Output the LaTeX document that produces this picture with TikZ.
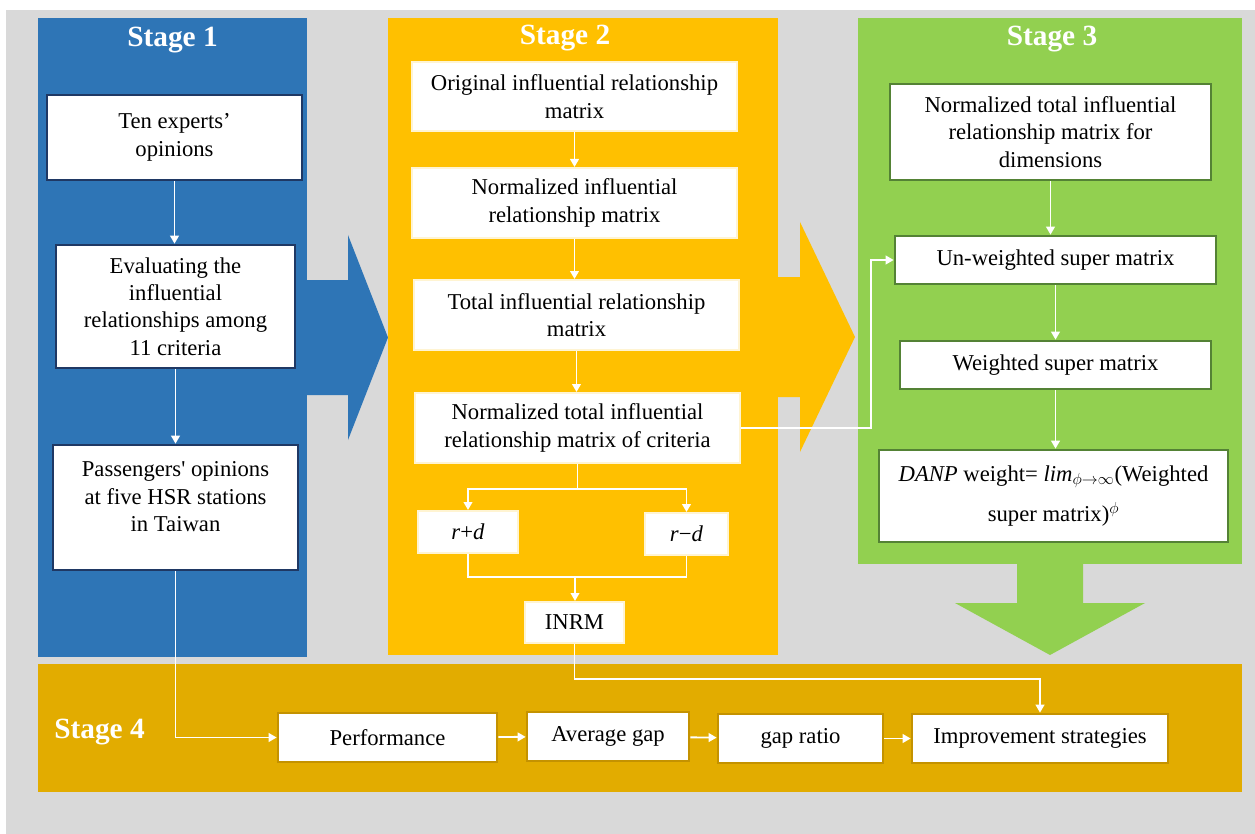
\documentclass[tikz,border=0pt]{standalone}
\usepackage{fontspec}
\setmainfont{Liberation Serif}
\usetikzlibrary{arrows.meta,calc}
\definecolor{bgc}{HTML}{D9D9D9}
\definecolor{s1c}{HTML}{2E75B6}
\definecolor{s2c}{HTML}{FFC000}
\definecolor{s3c}{HTML}{92D050}
\definecolor{s4c}{HTML}{E2AC00}
\definecolor{b1c}{HTML}{1F3864}
\definecolor{b2c}{HTML}{FFF4D2}
\definecolor{b3c}{HTML}{548235}
\definecolor{b4c}{HTML}{C49200}
\tikzset{
  box/.style={inner sep=0pt, align=center, font=\fontsize{17}{20.5}\selectfont, text=black, fill=white},
  bx1/.style={box, draw=b1c, line width=2pt},
  bx2/.style={box, draw=b2c, line width=1.5pt},
  bx3/.style={box, draw=b3c, line width=2pt},
  bx4/.style={box, draw=b4c, line width=2pt},
  title/.style={text=white, font=\fontsize{22}{26}\selectfont\bfseries, inner sep=0pt},
  arr/.style={draw=white, line width=1.4pt, -{Triangle[width=6.5pt,length=6pt]}},
  ln/.style={draw=white, line width=1.4pt},
}
\newcommand{\bxnode}[7]{\node[#1, minimum width={(#5-#3)*0.75pt}, minimum height={(#6-#4)*0.75pt}] (#2) at ({(#3+#5)/2},{(#4+#6)/2}) {#7};}
\begin{document}
\begin{tikzpicture}[x=0.75pt,y=-0.75pt]
\useasboundingbox (0,0) rectangle (1255,834);
\fill[white] (0,0) rectangle (1255,834);
\fill[bgc] (6,10) rectangle (1255,834);
% big arrows
\fill[s1c] (300,280) -- (348,280) -- (348,235) -- (388,337.5) -- (348,440) -- (348,395) -- (300,395) -- cycle;
\fill[s2c] (770,277) -- (800,277) -- (800,222) -- (855,337) -- (800,452) -- (800,397) -- (770,397) -- cycle;
\fill[s3c] (1017,560) -- (1083,560) -- (1083,603) -- (1145,603) -- (1050,655) -- (955,603) -- (1017,603) -- cycle;
% panels
\fill[s1c] (38,18) rectangle (307,657);
\fill[s2c] (388,18) rectangle (778,655);
\fill[s3c] (858,18) rectangle (1242,564);
\fill[s4c] (38,664) rectangle (1242,792);
% titles
\node[title] (t1) at (172.5,40) {Stage 1};
\node[title] (t2) at (565,38) {Stage 2};
\node[title] (t3) at (1052,39) {Stage 3};
\node[title, anchor=west] (t4) at (54,732) {Stage 4};
% stage 1
\bxnode{bx1}{ten}{47}{95}{302}{180}{Ten experts’\\opinions}
\bxnode{bx1}{eval}{56}{245}{295}{368}{Evaluating the\\influential\\relationships among\\11 criteria}
\bxnode{bx1}{pass}{53}{445}{298}{570}{Passengers\textquotesingle{} opinions\\at five HSR stations\\in Taiwan\\[-4pt]\mbox{}}
% stage 2
\bxnode{bx2}{orig}{412}{62}{737}{131}{Original influential relationship\\matrix}
\bxnode{bx2}{norm}{412}{168}{737}{238}{Normalized influential\\relationship matrix}
\bxnode{bx2}{tot}{414}{280}{739}{350}{Total influential relationship\\matrix}
\bxnode{bx2}{nt}{415}{393}{740}{463}{Normalized total influential\\relationship matrix of criteria}
\bxnode{bx2}{rpd}{418}{511}{518}{553}{\textit{r}+\textit{d}}
\bxnode{bx2}{rmd}{645}{513}{728}{555}{\textit{r}−\textit{d}}
\bxnode{bx2}{inrm}{525}{602}{624}{643}{INRM}
% stage 3
\bxnode{bx3}{ndim}{890}{84}{1211}{180}{Normalized total influential\\relationship matrix for\\dimensions}
\bxnode{bx3}{unw}{895}{236}{1216}{284}{Un-weighted super matrix}
\bxnode{bx3}{wsm}{900}{341}{1211}{389}{Weighted super matrix}
\bxnode{bx3}{danp}{879}{450}{1228}{542}{\textit{DANP} weight= \textit{lim}$_{\phi\to\infty}$(Weighted\\[10pt]super matrix)$^{\phi}$}
% stage 4
\bxnode{bx4}{perf}{278}{713}{497}{762}{Performance}
\bxnode{bx4}{avg}{527}{712}{689}{761}{Average gap}
\bxnode{bx4}{gr}{718}{714}{883}{763}{gap ratio}
\bxnode{bx4}{imp}{912}{714}{1168}{763}{Improvement strategies}
% connectors stage 1
\draw[arr] (ten.south) -- (ten.south |- eval.north);
\draw[arr] (eval.south) -- (eval.south |- pass.north);
\draw[arr] (pass.south) |- (perf.west);
% stage 2
\draw[arr] (orig.south) -- (orig.south |- norm.north);
\draw[arr] (norm.south) -- (norm.south |- tot.north);
\draw[arr] (tot.south) -- (tot.south |- nt.north);
\draw[ln] (nt.south) -- ++(0,25) coordinate (sp);
\draw[arr] (sp) -| (rpd.north);
\draw[arr] (sp) -| (rmd.north);
\draw[ln] (rpd.south) -- ++(0,23) -| (rmd.south);
\coordinate (jn) at (575,576);
\draw[arr] (jn) -- (jn |- inrm.north);
\draw[arr] (inrm.south) -- ++(0,35) -| (imp.north);
\coordinate (kn) at (871,260);
\draw[arr] (nt.east) -| (kn) -- (unw.west);
% stage 3
\draw[arr] (ndim.south) -- (ndim.south |- unw.north);
\draw[arr] (unw.south) -- (unw.south |- wsm.north);
\draw[arr] (wsm.south) -- (wsm.south |- danp.north);
% stage 4
\draw[arr] (perf) -- (avg);
\draw[arr] (avg) -- (gr);
\draw[arr] (gr) -- (imp);
\end{tikzpicture}
\end{document}
